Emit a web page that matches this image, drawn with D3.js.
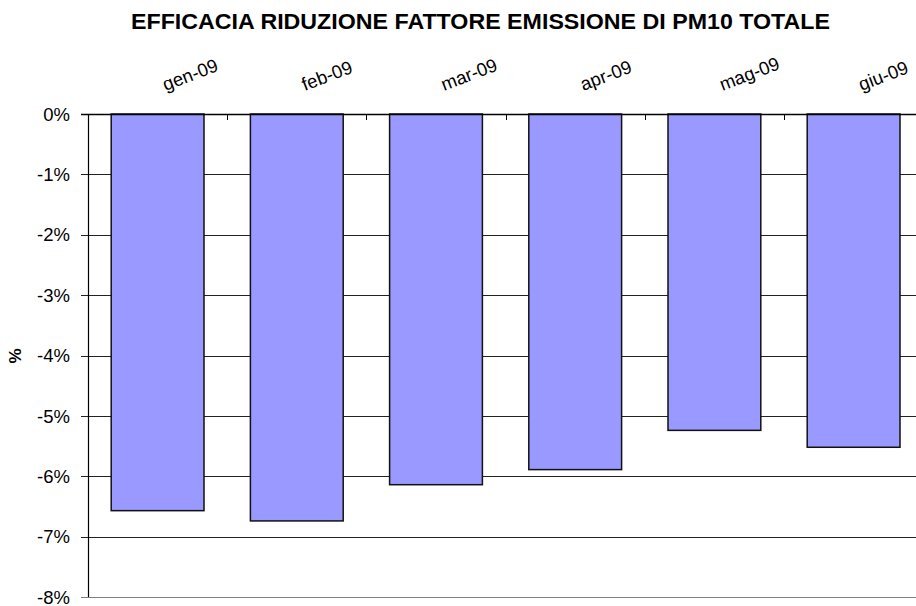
<!DOCTYPE html>
<html><head><meta charset="utf-8">
<script src="https://cdn.jsdelivr.net/npm/d3@7/dist/d3.min.js"></script>
<style>body{margin:0;background:#fff}svg{display:block;font-family:"Liberation Sans",Arial,sans-serif}</style>
</head><body><svg id="c" width="916" height="606"></svg>
<script>
const categories = ["gen-09","feb-09","mar-09","apr-09","mag-09","giu-09"];
const values = [-6.57, -6.74, -6.14, -5.89, -5.24, -5.52];
const yTicks = [0,-1,-2,-3,-4,-5,-6,-7,-8];
const title = "EFFICACIA RIDUZIONE FATTORE EMISSIONE DI PM10 TOTALE";
const yTitle = "%";

(function(){
const svg = d3.select("#c");
const mLeft = 88, mTop = 114, mBottom = 597, step = 139.2;
const x = d3.scaleBand().domain(categories).range([mLeft, mLeft + step*categories.length])
  .paddingInner(1/3).paddingOuter(1/6);
const y = d3.scaleLinear().domain([0,-8]).range([mTop, mBottom]);

// gridlines
svg.append("g").selectAll("line").data(yTicks).join("line")
  .attr("x1", mLeft - 7).attr("x2", 916)
  .attr("y1", d => Math.round(y(d)) + 0.5).attr("y2", d => Math.round(y(d)) + 0.5)
  .attr("stroke", d => d === -8 ? "#808080" : "#222").attr("stroke-width", 1);

// bars
svg.append("g").selectAll("rect").data(values).join("rect")
  .attr("x", (d,i) => x(categories[i]))
  .attr("y", y(0))
  .attr("width", x.bandwidth())
  .attr("height", d => y(d) - y(0))
  .attr("fill", "#9999FF").attr("stroke", "#111").attr("stroke-width", 1.5);

// y axis line
svg.append("line").attr("x1", mLeft+0.5).attr("x2", mLeft+0.5).attr("y1", mTop).attr("y2", mBottom)
  .attr("stroke", "#000").attr("stroke-width", 1.2);
// top axis line
svg.append("line").attr("x1", mLeft - 7).attr("x2", 916).attr("y1", Math.round(y(0))+0.5).attr("y2", Math.round(y(0))+0.5)
  .attr("stroke", "#000").attr("stroke-width", 1.5);

// x category boundary ticks (pointing down)
const bounds = d3.range(1, categories.length+1).map(i => mLeft + i*x.step());
svg.append("g").selectAll("line").data(bounds).join("line")
  .attr("x1", d => Math.round(d)+0.5).attr("x2", d => Math.round(d)+0.5)
  .attr("y1", mTop).attr("y2", mTop + 6).attr("stroke", "#000");

// y tick labels
svg.append("g").selectAll("text").data(yTicks).join("text")
  .attr("x", 70).attr("y", d => y(d)).attr("dy", "0.36em")
  .attr("text-anchor", "end").attr("font-size", 18.5).attr("fill", "#000")
  .text(d => d + "%");

// x labels rotated
svg.append("g").selectAll("text").data(categories).join("text")
  .attr("transform", d => `translate(${x(d) + x.bandwidth()/2 + 8},91) rotate(-21)`)
  .attr("text-anchor", "start").attr("font-size", 18.5).attr("fill", "#000")
  .text(d => d);

// title
svg.append("text").attr("x", 131).attr("y", 28.5)
  .attr("font-size", 22).attr("font-weight", "bold")
  .attr("textLength", 699).attr("lengthAdjust", "spacingAndGlyphs")
  .text(title);

// y title
svg.append("text").attr("transform", "translate(21,356) rotate(-90)")
  .attr("text-anchor", "middle").attr("font-size", 17).attr("font-weight", "bold")
  .text(yTitle);
})();
</script></body></html>
